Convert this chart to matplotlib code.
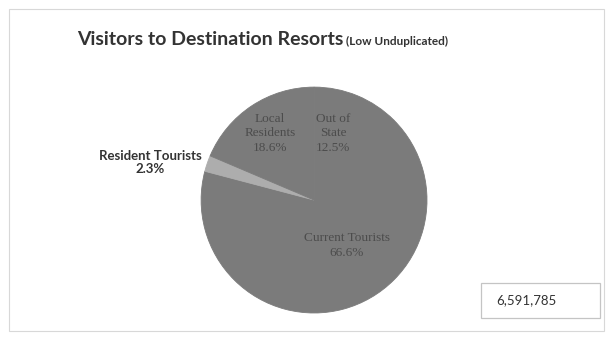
import matplotlib

matplotlib.use("Agg")

import matplotlib.pyplot as plt  # noqa: E402
from matplotlib.patches import Rectangle  # noqa: E402

# --- data (Excel order: starts at 12 o'clock, clockwise) ---
labels = ["Out of\nState", "Current Tourists", "Resident Tourists", "Local\nResidents"]
shares = [12.5, 66.6, 2.3, 18.6]
total_visitors = "6,591,785"

TITLE = "Visitors to Destination Resorts"
SUBTITLE = "(Low Unduplicated)"

SLICE_COLOR = "#7b7b7b"
LIGHT_COLOR = "#adadad"
TEXT_INNER = "#4c4c4c"
TEXT_DARK = "#333333"
FRAME_COLOR = "#d8d8d8"

colors = [SLICE_COLOR, SLICE_COLOR, LIGHT_COLOR, SLICE_COLOR]
# label anchor (data coords of the pie axes, radius = 1)
label_pos = [(0.17, 0.59), (0.29, -0.40), (-1.45, 0.33), (-0.39, 0.59)]

fig = plt.figure(figsize=(6.11, 3.47), dpi=100, facecolor="white")

# faint chart frame
fig.add_artist(Rectangle((0.014, 0.045), 0.975, 0.93, transform=fig.transFigure,
                         fill=False, edgecolor=FRAME_COLOR, linewidth=0.8))

ax = fig.add_axes([0.329, 0.098, 0.37, 0.651])
wedges, _ = ax.pie(shares, colors=colors, startangle=90, counterclock=False,
                   radius=1.0)
for w, c in zip(wedges, colors):
    w.set_edgecolor(c)
    w.set_linewidth(0.6)
ax.set_xlim(-1.0, 1.0)
ax.set_ylim(-1.0, 1.0)
ax.set_aspect("equal")

for lab, val, (x, y) in zip(labels, shares, label_pos):
    txt = f"{lab}\n{val:.1f}%"
    if lab == "Resident Tourists":
        ax.text(x, y, txt, ha="center", va="center", fontsize=9.5,
                fontweight="bold", color=TEXT_DARK, family="Lato",
                linespacing=1.1, clip_on=False)
    else:
        ax.text(x, y, txt, ha="center", va="center", fontsize=9.5,
                color=TEXT_INNER, family="Liberation Serif",
                linespacing=1.3)

# title: big bold part + smaller bold suffix
t1 = fig.text(0.126, 0.87, TITLE, fontsize=14, fontweight="bold",
              color=TEXT_DARK, family="Lato", va="baseline")
fig.canvas.draw()
bb = t1.get_window_extent()
x_end = bb.x1 / fig.bbox.width
fig.text(x_end + 0.004, 0.87, SUBTITLE, fontsize=8.5, fontweight="bold",
         color=TEXT_DARK, family="Lato", va="baseline")

# total box
fig.add_artist(Rectangle((0.787, 0.085), 0.195, 0.10, transform=fig.transFigure,
                         fill=True, facecolor="white", edgecolor="#c4c4c4",
                         linewidth=0.9))
fig.text(0.862, 0.135, total_visitors, fontsize=9.5, color=TEXT_DARK,
         family="Lato", ha="center", va="center")

fig.savefig("out.png", dpi=100, facecolor="white")
plt.close(fig)
